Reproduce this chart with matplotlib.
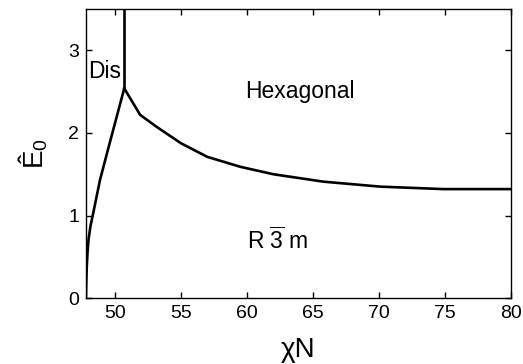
import matplotlib
matplotlib.use("Agg")
import matplotlib.pyplot as plt

plt.rcParams["font.family"] = ["Liberation Sans", "DejaVu Sans"]
plt.rcParams["mathtext.fontset"] = "custom"
plt.rcParams["mathtext.rm"] = "Liberation Sans"
plt.rcParams["mathtext.it"] = "Liberation Sans:italic"

# Dis / R-3m boundary (rising branch)
left_x = [47.8, 47.82, 47.86, 47.92, 48.0, 48.15, 48.35, 48.86, 49.5, 50.1, 50.7]
left_y = [0.0, 0.18, 0.38, 0.56, 0.72, 0.88, 1.03, 1.43, 1.82, 2.18, 2.54]

# Dis / Hexagonal boundary (vertical)
vert_x = [50.7, 50.7]
vert_y = [2.54, 3.5]

# Hexagonal / R-3m boundary
right_x = [50.7, 51.9, 53.1, 55.0, 57.0, 59.5, 62.0, 65.8, 70.1, 74.9, 80.0]
right_y = [2.54, 2.22, 2.08, 1.875, 1.71, 1.59, 1.50, 1.41, 1.35, 1.32, 1.32]

x_ticks = [50, 55, 60, 65, 70, 75, 80]
y_ticks = [0, 1, 2, 3]

fig = plt.figure(figsize=(5.23, 3.64), dpi=100)
ax = fig.add_axes([0.1644, 0.181, 0.8126, 0.794])

for xs, ys in [(left_x, left_y), (vert_x, vert_y), (right_x, right_y)]:
    ax.plot(xs, ys, color="black", linewidth=1.9, solid_joinstyle="miter")

ax.set_xlim(47.8, 80)
ax.set_ylim(0, 3.5)
ax.set_xticks(x_ticks)
ax.set_yticks(y_ticks)
ax.tick_params(direction="in", top=True, right=True, labelsize=14, length=4, width=1, pad=5)
for s in ax.spines.values():
    s.set_linewidth(1.0)

ax.text(47.95, 2.74, "Dis", fontsize=16.5, ha="left", va="center")
ax.text(64.0, 2.50, "Hexagonal", fontsize=16.5, ha="center", va="center")
ax.text(62.3, 0.70, r"R $\overline{\mathrm{3}}$ m", fontsize=16.5, ha="center", va="center")

ax.set_xlabel("χN", fontsize=20, labelpad=11)
ax.set_ylabel(r"Ê$_0$", fontsize=20, labelpad=13)

fig.savefig("out.png", dpi=100)
